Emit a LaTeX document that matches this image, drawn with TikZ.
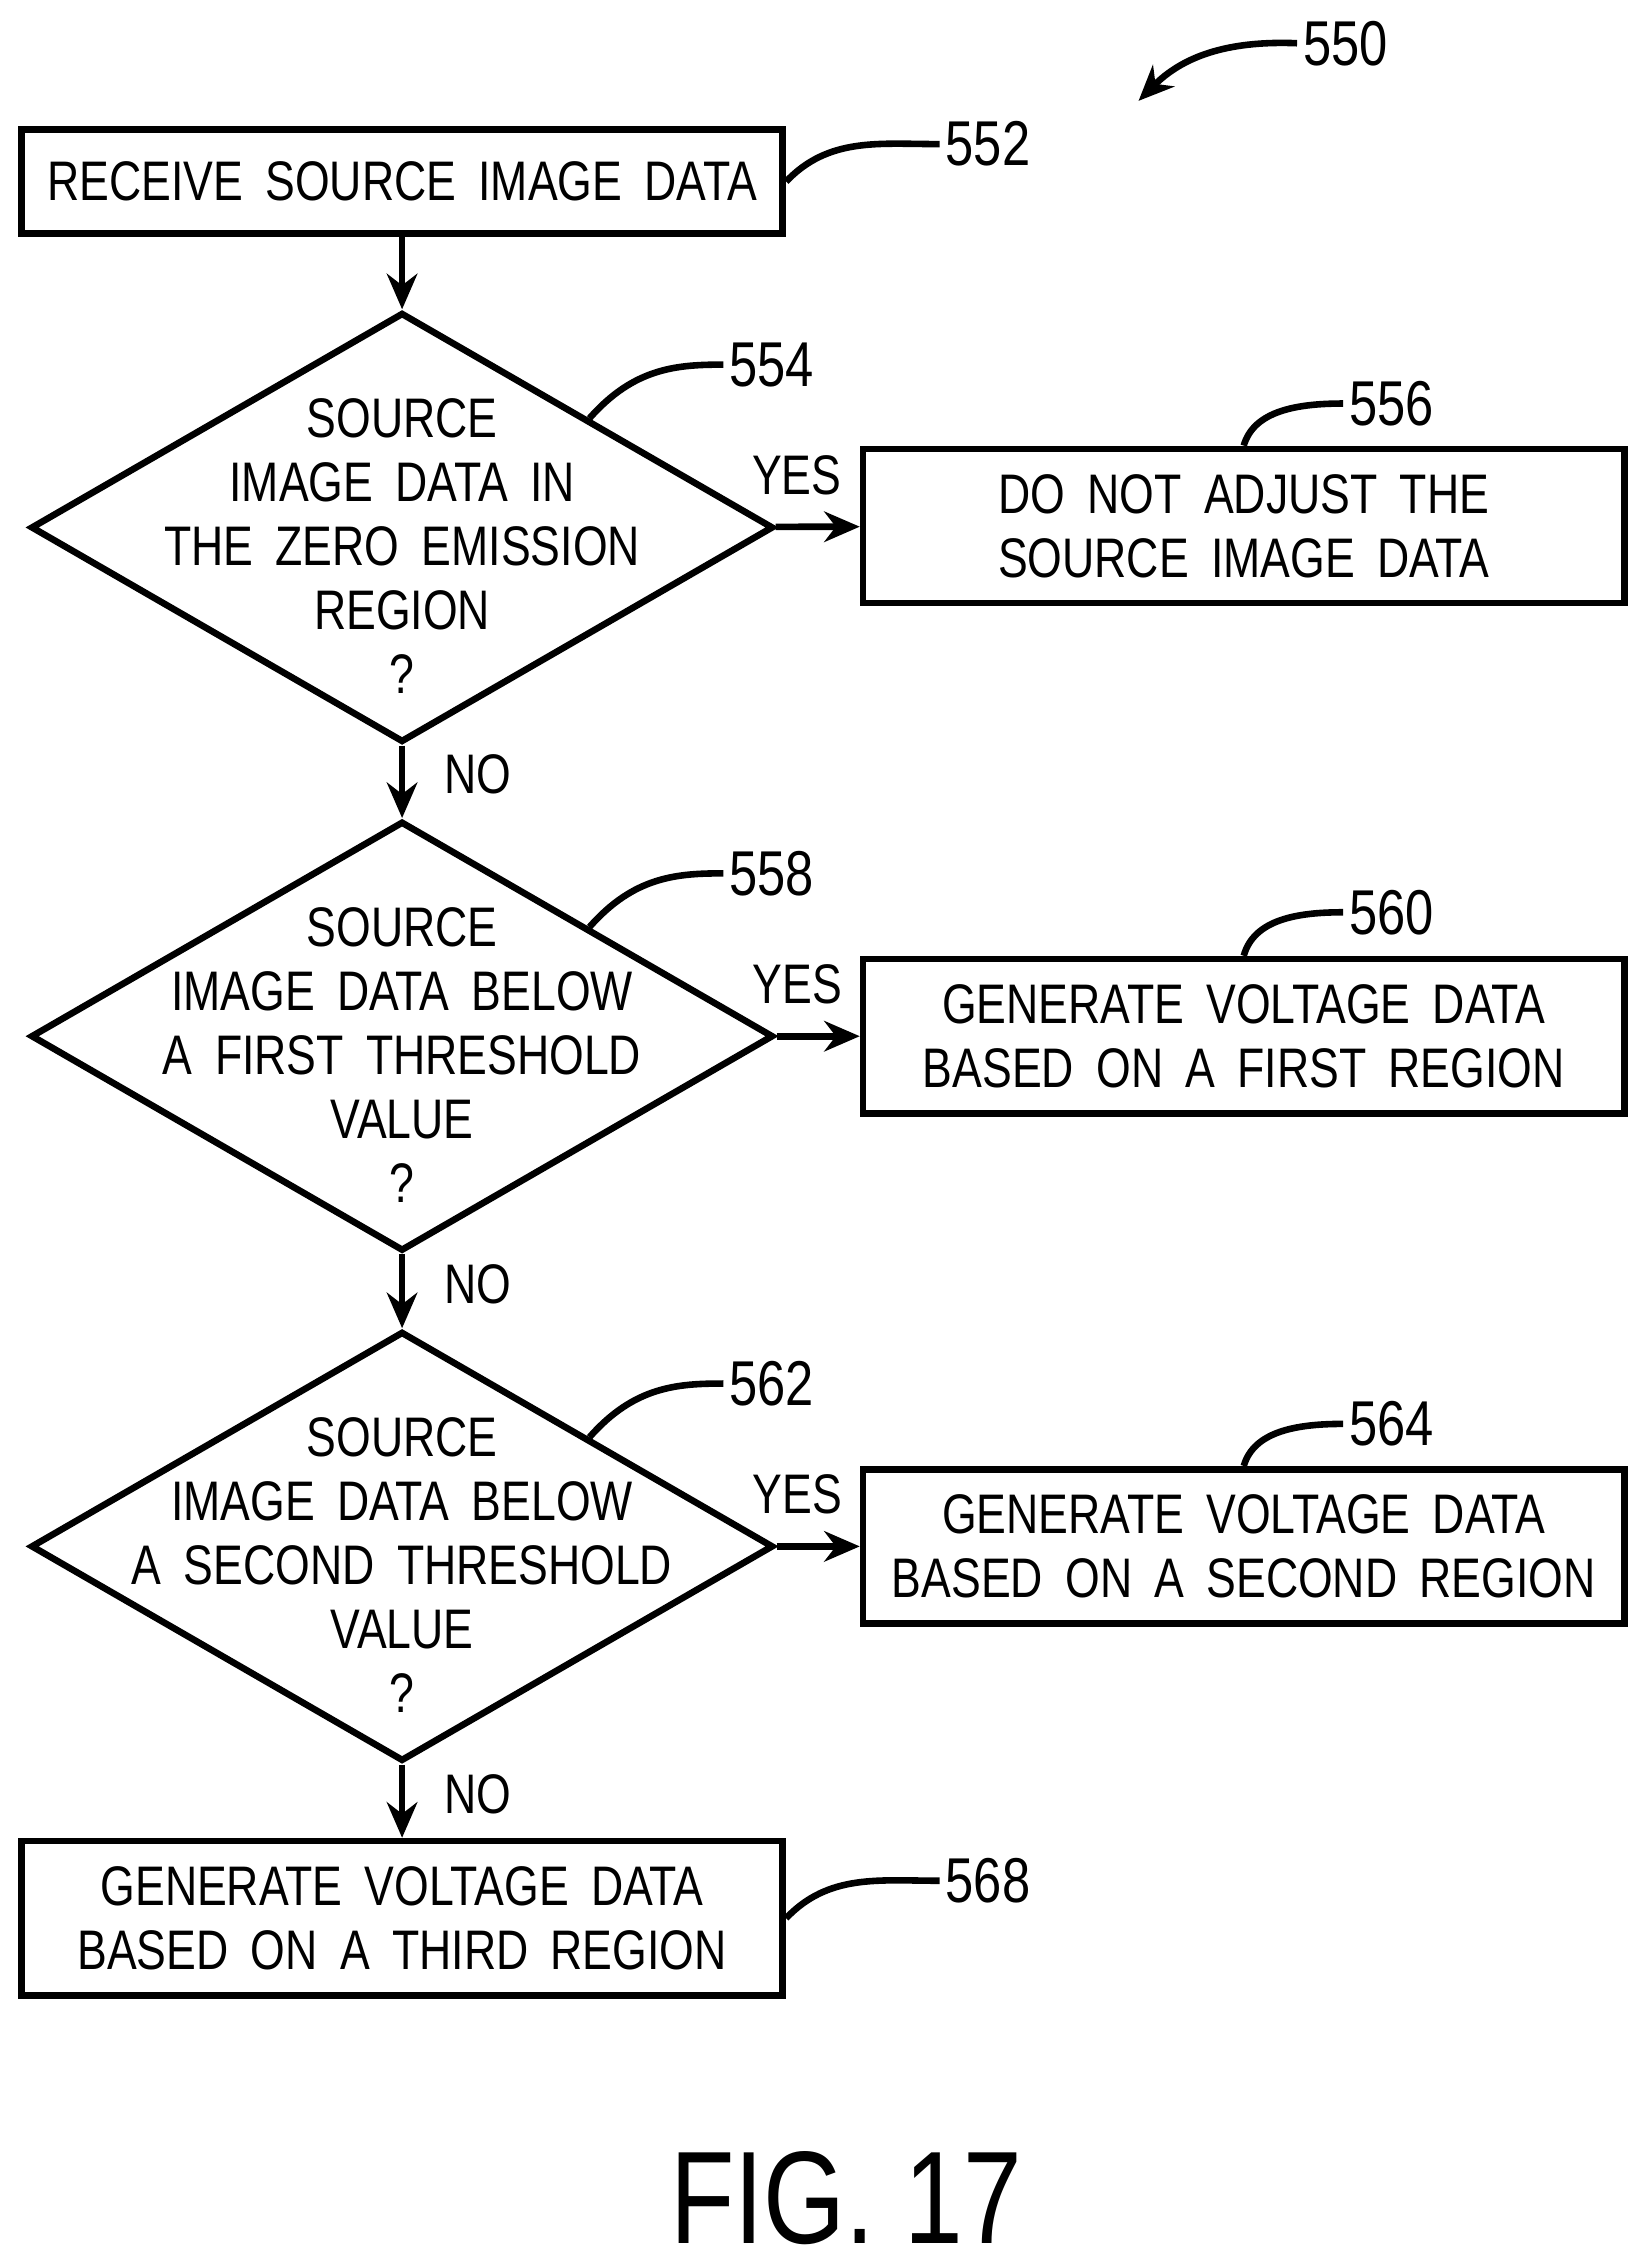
\documentclass[tikz,border=0pt]{standalone}
\usepackage{fontspec}
\setmainfont[FakeStretch=0.8]{Liberation Sans}
\usetikzlibrary{shapes.geometric,arrows.meta}
\tikzset{
    box/.style={draw, line width=1.3pt, minimum width=5.28cm, text width=5.1cm, minimum height=1.07cm, align=center, inner sep=0pt},
    decision/.style={draw, diamond, line width=1.3pt, minimum width=5.15cm, minimum height=2.98cm, inner sep=0pt},
    txt/.style={align=center, inner sep=0pt},
    flow/.style={line width=1.3pt, -{Stealth[length=7pt,width=6pt]}},
    leader/.style={line width=1.3pt},
    ref/.style={inner sep=1pt, font=\fontsize{12.5}{15}\selectfont},
}
\newcommand{\wsp}{\hspace{0.4em}}
\begin{document}
\fontsize{11}{12.6}\selectfont
\begin{tikzpicture}[x=0.01cm, y=-0.01cm]
    \useasboundingbox (0,0) rectangle (1140,1564);

    % boxes and decisions
    \node[box, minimum height=0.72cm] (r552) at (279,126) {RECEIVE\wsp SOURCE\wsp IMAGE\wsp DATA};
    \node[decision] (d554) at (279,366) {};
    \node[txt] at (279,379) {SOURCE\\IMAGE\wsp DATA\wsp IN\\THE\wsp ZERO\wsp EMISSION\\REGION\\?};
    \node[box] (r556) at (863,365) {DO\wsp NOT\wsp ADJUST\wsp THE\\SOURCE\wsp IMAGE\wsp DATA};

    \node[decision] (d558) at (279,719) {};
    \node[txt] at (279,732) {SOURCE\\IMAGE\wsp DATA\wsp BELOW\\A\wsp FIRST\wsp THRESHOLD\\VALUE\\?};
    \node[box] (r560) at (863,719) {GENERATE\wsp VOLTAGE\wsp DATA\\BASED\wsp ON\wsp A\wsp FIRST\wsp REGION};

    \node[decision] (d562) at (279,1073) {};
    \node[txt] at (279,1086) {SOURCE\\IMAGE\wsp DATA\wsp BELOW\\A\wsp SECOND\wsp THRESHOLD\\VALUE\\?};
    \node[box] (r564) at (863,1073) {GENERATE\wsp VOLTAGE\wsp DATA\\BASED\wsp ON\wsp A\wsp SECOND\wsp REGION};

    \node[box] (r568) at (279,1331) {GENERATE\wsp VOLTAGE\wsp DATA\\BASED\wsp ON\wsp A\wsp THIRD\wsp REGION};

    % flow
    \draw[flow] (r552) -- (d554);
    \draw[flow] (d554) -- node[above=2pt, pos=0.25] {YES} (r556);
    \draw[flow] (d554) -- node[right=4pt, pos=0.4] {NO} (d558);
    \draw[flow] (d558) -- node[above=2pt, pos=0.25] {YES} (r560);
    \draw[flow] (d558) -- node[right=4pt, pos=0.4] {NO} (d562);
    \draw[flow] (d562) -- node[above=2pt, pos=0.25] {YES} (r564);
    \draw[flow] (d562) -- node[right=4pt, pos=0.4] {NO} (r568);

    % reference numerals
    \node[ref, anchor=west] (n550) at (900,30) {550};
    \node[ref, anchor=west] (n552) at (652,100) {552};
    \node[ref, anchor=west] (n554) at (502,253) {554};
    \node[ref, anchor=west] (n556) at (932,280) {556};
    \node[ref, anchor=west] (n558) at (502,606) {558};
    \node[ref, anchor=west] (n560) at (932,633) {560};
    \node[ref, anchor=west] (n562) at (502,960) {562};
    \node[ref, anchor=west] (n564) at (932,988) {564};
    \node[ref, anchor=west] (n568) at (652,1305) {568};
    \coordinate (a550) at (790,70);

    \draw[flow] (n550.west) .. controls (850,28) and (820,40) .. (a550);
    \draw[leader] (r552.east) .. controls (575,95) and (610,100) .. (n552.west);
    \draw[leader] (d554.north east) .. controls (440,255) and (470,253) .. (n554.west);
    \draw[leader] (r556.north) .. controls (870,285) and (900,280) .. (n556.west);
    \draw[leader] (d558.north east) .. controls (440,608) and (470,606) .. (n558.west);
    \draw[leader] (r560.north) .. controls (870,638) and (900,633) .. (n560.west);
    \draw[leader] (d562.north east) .. controls (440,962) and (470,960) .. (n562.west);
    \draw[leader] (r564.north) .. controls (870,993) and (900,988) .. (n564.west);
    \draw[leader] (r568.east) .. controls (575,1300) and (610,1305) .. (n568.west);

    \node[font=\fontsize{26}{30}\selectfont] (fig) at (587,1525) {FIG. 17};
\end{tikzpicture}
\end{document}
